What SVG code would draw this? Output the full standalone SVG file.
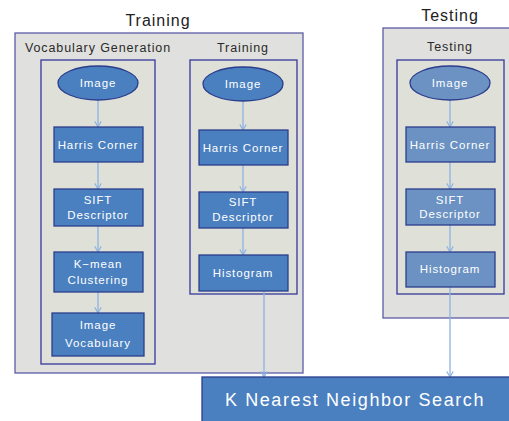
<svg xmlns="http://www.w3.org/2000/svg" width="509" height="421" viewBox="0 0 509 421">
<defs>
<style>
.outer{fill:#e0e0de;stroke:#5c5ca6;stroke-width:1.3}
.inner{fill:#dfe1d9;stroke:#36389a;stroke-width:1.3}
.node{fill:#4a80bf;stroke:#2c3d8c;stroke-width:1.3}
.tnode{fill:#6b92c2;stroke:#2c3d8c;stroke-width:1.3}
.lbl{font-family:"Liberation Sans",Arial,sans-serif;font-size:11.5px;fill:#fff;text-anchor:middle;letter-spacing:0.9px}
.title{font-family:"Liberation Sans",Arial,sans-serif;font-size:16px;fill:#222;text-anchor:middle;letter-spacing:1px}
.sub{font-family:"Liberation Sans",Arial,sans-serif;font-size:12.5px;fill:#2a2a2a;text-anchor:middle;letter-spacing:0.9px}
.conn{stroke:#8db2e0;stroke-width:1.3;fill:none;marker-end:url(#arr)}
</style>
<marker id="arr" viewBox="0 0 10 10" refX="9" refY="5" markerWidth="8" markerHeight="8" markerUnits="userSpaceOnUse" orient="auto">
<path d="M2,1 L9,5 L2,9" fill="none" stroke="#8db2e0" stroke-width="1.4"/>
</marker>
</defs>
<text class="title" x="158" y="26">Training</text>
<text class="title" x="450" y="21">Testing</text>
<g id="training-outer"><rect class="outer" x="15" y="33" width="288" height="340"/></g>
<g id="testing-outer"><rect class="outer" x="383" y="28" width="130" height="290"/></g>
<text class="sub" x="98" y="52">Vocabulary Generation</text>
<text class="sub" x="243" y="52">Training</text>
<text class="sub" x="450" y="51">Testing</text>
<g id="vocab-box"><rect class="inner" x="41" y="60" width="114" height="304"/></g>
<g id="train-box"><rect class="inner" x="190" y="60" width="107" height="234"/></g>
<g id="test-box"><rect class="inner" x="397" y="60" width="107" height="234"/></g>

<g id="connectors">
<line class="conn" x1="98" y1="100" x2="98" y2="127"/>
<line class="conn" x1="98" y1="162" x2="98" y2="189"/>
<line class="conn" x1="98" y1="226" x2="98" y2="252"/>
<line class="conn" x1="98" y1="292" x2="98" y2="313"/>
<line class="conn" x1="243" y1="101" x2="243" y2="130"/>
<line class="conn" x1="243" y1="165" x2="243" y2="192"/>
<line class="conn" x1="243" y1="228" x2="243" y2="255"/>
<line class="conn" x1="264" y1="291" x2="264" y2="377"/>
<line class="conn" x1="450" y1="100" x2="450" y2="127"/>
<line class="conn" x1="450" y1="162" x2="450" y2="189"/>
<line class="conn" x1="450" y1="225" x2="450" y2="252"/>
<line class="conn" x1="450" y1="287" x2="450" y2="377"/>
</g>

<g id="v-image"><ellipse class="node" cx="98" cy="83" rx="40" ry="17"/><text class="lbl" x="98" y="87">Image</text></g>
<g id="v-harris"><rect class="node" x="54" y="127" width="89" height="35"/><text class="lbl" x="98" y="148.5">Harris Corner</text></g>
<g id="v-sift"><rect class="node" x="54" y="189" width="89" height="37"/><text class="lbl" x="98" y="204">SIFT</text><text class="lbl" x="98" y="219">Descriptor</text></g>
<g id="v-kmean"><rect class="node" x="54" y="252" width="89" height="40"/><text class="lbl" x="98" y="268">K−mean</text><text class="lbl" x="98" y="284">Clustering</text></g>
<g id="v-vocab"><rect class="node" x="52" y="313" width="92" height="43"/><text class="lbl" x="98" y="329">Image</text><text class="lbl" x="98" y="347">Vocabulary</text></g>

<g id="t-image"><ellipse class="node" cx="243" cy="84" rx="40" ry="17"/><text class="lbl" x="243" y="88">Image</text></g>
<g id="t-harris"><rect class="node" x="199" y="130" width="89" height="35"/><text class="lbl" x="243" y="151.5">Harris Corner</text></g>
<g id="t-sift"><rect class="node" x="199" y="192" width="89" height="36"/><text class="lbl" x="243" y="206">SIFT</text><text class="lbl" x="243" y="221">Descriptor</text></g>
<g id="t-hist"><rect class="node" x="199" y="255" width="89" height="36"/><text class="lbl" x="243" y="277">Histogram</text></g>

<g id="s-image"><ellipse class="tnode" cx="450" cy="83" rx="40" ry="17"/><text class="lbl" x="450" y="87">Image</text></g>
<g id="s-harris"><rect class="tnode" x="406" y="127" width="89" height="35"/><text class="lbl" x="450" y="148.5">Harris Corner</text></g>
<g id="s-sift"><rect class="tnode" x="406" y="189" width="89" height="36"/><text class="lbl" x="450" y="204">SIFT</text><text class="lbl" x="450" y="218">Descriptor</text></g>
<g id="s-hist"><rect class="tnode" x="406" y="252" width="89" height="35"/><text class="lbl" x="450" y="273">Histogram</text></g>

<g id="knn"><rect class="node" x="202" y="377" width="310" height="50"/><text class="lbl" x="355" y="406" style="font-size:18px;letter-spacing:1.6px">K Nearest Neighbor Search</text></g>
</svg>
